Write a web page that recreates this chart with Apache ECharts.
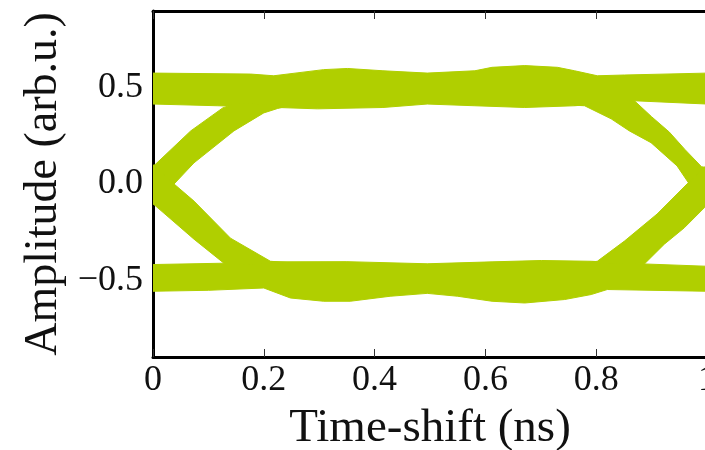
<!DOCTYPE html>
<html>
<head>
<meta charset="utf-8">
<script src="https://cdn.jsdelivr.net/npm/echarts@6/dist/echarts.min.js"></script>
<style>
  html, body { margin: 0; padding: 0; background: #fff; }
  #chart { width: 705px; height: 450px; }
</style>
</head>
<body>
<div id="chart"></div>
<script>
// Eye-diagram envelope: each band is bounded by an upper and a lower edge,
// given as [time-shift (ns), amplitude (arb.u.)] pairs.

// Upper rail ("1" level)
const highUpper = [[0, 0.577], [0.176, 0.572], [0.218, 0.563], [0.26, 0.578], [0.308, 0.595], [0.351, 0.601], [0.415, 0.589], [0.495, 0.577], [0.581, 0.589], [0.612, 0.607], [0.671, 0.616], [0.73, 0.607], [0.761, 0.589], [0.802, 0.563], [0.851, 0.567], [1, 0.577]];
const highLower = [[0, 0.416], [0.117, 0.407], [0.225, 0.398], [0.297, 0.391], [0.415, 0.398], [0.495, 0.416], [0.581, 0.407], [0.671, 0.398], [0.761, 0.407], [0.869, 0.433], [1, 0.416]];

// Lower rail ("0" level)
const lowUpper = [[0, -0.419], [0.128, -0.412], [0.218, -0.405], [0.35, -0.404], [0.495, -0.415], [0.612, -0.405], [0.701, -0.398], [0.791, -0.402], [0.887, -0.416], [1, -0.428]];
const lowLower = [[0, -0.558], [0.1, -0.553], [0.2, -0.541], [0.248, -0.593], [0.308, -0.61], [0.356, -0.61], [0.428, -0.584], [0.495, -0.569], [0.55, -0.584], [0.612, -0.61], [0.671, -0.619], [0.743, -0.601], [0.791, -0.575], [0.82, -0.549], [1, -0.558]];

// Rising edge leaving the left crossing
const riseLeftUpper = [[0, 0.094], [0.005, 0.104], [0.068, 0.276], [0.126, 0.396], [0.15, 0.42]];
const riseLeftLower = [[0, -0.1], [0.038, 0], [0.074, 0.11], [0.146, 0.276], [0.2, 0.37], [0.225, 0.393], [0.25, 0.41]];

// Falling edge leaving the left crossing
const fallLeftUpper = [[0, 0.1], [0.038, 0], [0.074, -0.089], [0.14, -0.282], [0.212, -0.402], [0.25, -0.41]];
const fallLeftLower = [[0, -0.104], [0.005, -0.115], [0.074, -0.287], [0.128, -0.412], [0.15, -0.42]];

// Falling edge into the right crossing
const fallRightUpper = [[0.84, 0.43], [0.869, 0.433], [0.9, 0.35], [0.932, 0.27], [0.96, 0.18], [0.99, 0.09], [1, 0.085]];
const fallRightLower = [[0.76, 0.41], [0.779, 0.407], [0.827, 0.339], [0.86, 0.276], [0.899, 0.215], [0.946, 0.094], [0.968, 0], [1, -0.1]];

// Rising edge into the right crossing
const riseRightUpper = [[0.78, -0.41], [0.802, -0.402], [0.851, -0.297], [0.91, -0.156], [0.964, 0], [1, 0.1]];
const riseRightLower = [[0.887, -0.416], [0.923, -0.313], [0.959, -0.228], [0.995, -0.124], [1, -0.11]];

const bands = [
  [highUpper, highLower],
  [lowUpper, lowLower],
  [riseLeftUpper, riseLeftLower],
  [fallLeftUpper, fallLeftLower],
  [fallRightUpper, fallRightLower],
  [riseRightUpper, riseRightLower]
];

const xTicks = [0, 0.2, 0.4, 0.6, 0.8, 1];
const xTickLabels = ['0', '0.2', '0.4', '0.6', '0.8', '1'];
const yTicks = [-0.5, 0, 0.5];
const yTickLabels = ['\u22120.5', '0.0', '0.5'];

const FONT = 'Liberation Serif';
const BAND_COLOR = '#b0cf00';

const chart = echarts.init(document.getElementById('chart'), null, { renderer: 'canvas' });

const lineStyle = { color: '#000', width: 3 };
const tickStyle = { show: true, inside: true, length: 8, lineStyle: { color: '#333', width: 1 } };

function xLabel(v) {
  const i = xTicks.findIndex(t => Math.abs(t - v) < 1e-9);
  return i >= 0 ? xTickLabels[i] : '';
}
function yLabel(v) {
  const i = yTicks.findIndex(t => Math.abs(t - v) < 1e-9);
  return i >= 0 ? yTickLabels[i] : '';
}

chart.setOption({
  backgroundColor: '#fff',
  animation: false,
  grid: { left: 153, top: 11, width: 554, height: 346, containLabel: false, outerBoundsMode: 'none' },
  xAxis: [
    {
      type: 'value', position: 'bottom', min: 0, max: 1, interval: 0.2,
      name: 'Time-shift (ns)', nameLocation: 'middle', nameGap: 48,
      nameTextStyle: { fontFamily: FONT, fontSize: 47, color: '#111' },
      axisLine: { show: true, onZero: false, lineStyle },
      axisTick: tickStyle,
      axisLabel: { show: true, margin: 6, fontFamily: FONT, fontSize: 36, color: '#111', formatter: xLabel, showMinLabel: true, showMaxLabel: true },
      splitLine: { show: false }
    },
    {
      type: 'value', position: 'top', min: 0, max: 1, interval: 0.2,
      axisLine: { show: true, onZero: false, lineStyle },
      axisTick: tickStyle,
      axisLabel: { show: false },
      splitLine: { show: false }
    }
  ],
  yAxis: [
    {
      type: 'value', position: 'left', min: -0.9, max: 0.9,
      name: 'Amplitude (arb.u.)', nameLocation: 'middle', nameGap: 82,
      nameTextStyle: { fontFamily: FONT, fontSize: 46, color: '#111' },
      axisLine: { show: true, onZero: false, lineStyle },
      axisTick: Object.assign({}, tickStyle, { customValues: yTicks }),
      axisLabel: { show: true, margin: 10, fontFamily: FONT, fontSize: 36, color: '#111', customValues: yTicks, formatter: yLabel },
      splitLine: { show: false }
    },
    {
      type: 'value', position: 'right', min: -0.9, max: 0.9,
      axisLine: { show: true, onZero: false, lineStyle },
      axisTick: Object.assign({}, tickStyle, { customValues: yTicks }),
      axisLabel: { show: false },
      splitLine: { show: false }
    }
  ],
  series: [
    {
      type: 'custom',
      xAxisIndex: 0,
      yAxisIndex: 0,
      clip: true,
      silent: true,
      data: bands.map((b, i) => [b[0][0][0], b[0][0][1], i]),
      encode: { x: 0, y: 1 },
      renderItem: function (params, api) {
        const idx = api.value(2);
        const band = bands[idx];
        const pts = band[0].concat(band[1].slice().reverse()).map(p => api.coord(p));
        return {
          type: 'polygon',
          shape: { points: pts },
          style: { fill: BAND_COLOR, stroke: BAND_COLOR, lineWidth: 1 }
        };
      }
    }
  ]
});
</script>
</body>
</html>
